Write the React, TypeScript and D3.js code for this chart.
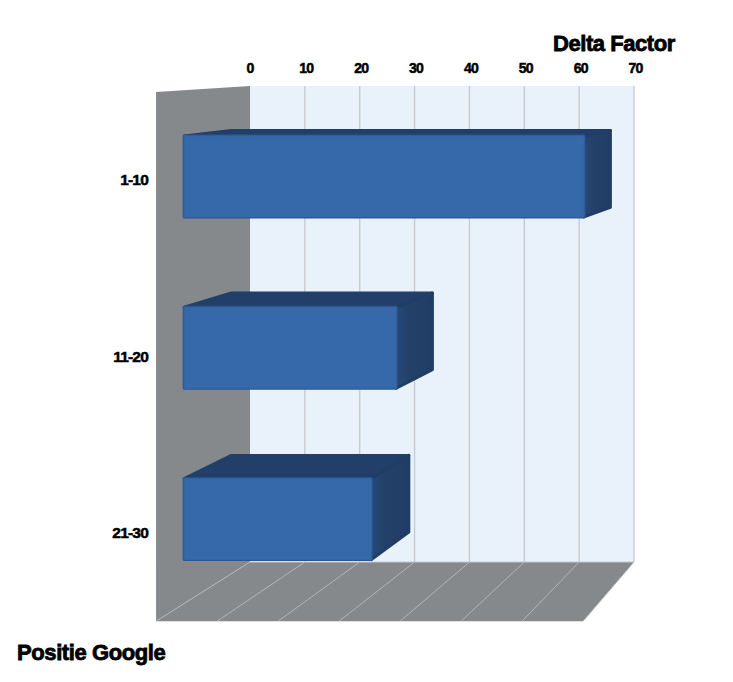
import React from "react";
import * as d3 from "d3";

const categories = ["1-10", "11-20", "21-30"];
const deltaFactor = [67.7, 36.0, 31.8];
const xTicks = [0, 10, 20, 30, 40, 50, 60, 70];

const xBack = d3.scaleLinear().domain([0, 70]).range([250, 634]);
const yBack = d3
  .scaleBand<string>()
  .domain(categories)
  .range([86, 562])
  .paddingInner(0.515)
  .paddingOuter(0.2575);
const depthScale = d3.scaleLinear().domain([0, 1]).range([1, 1.112]);
const VP = [1089, 33];
const BAR_BACK = 0.21;
const BAR_FRONT = 0.713;

function project(v: number, y: number, d: number): [number, number] {
  const s = depthScale(d);
  return [VP[0] + (xBack(v) - VP[0]) * s, VP[1] + (y - VP[1]) * s];
}
const poly = (pts: [number, number][]) => d3.line()(pts)! + "Z";

const labelFont = "'Liberation Sans', Arial, sans-serif";
const heavy = { fontFamily: labelFont, fontWeight: 700, fill: "#000", stroke: "#000" };

export default function App() {
  const [top, bottom] = yBack.range();
  return (
    <svg
      width={733}
      height={682}
      style={{ position: "absolute", left: 0, top: 0, background: "#fff" }}
    >
      <defs>
        <linearGradient id="side" x1="0" x2="1" y1="0" y2="0">
          <stop offset="0" stopColor="#27497a" />
          <stop offset="0.35" stopColor="#234168" />
          <stop offset="1" stopColor="#203d66" />
        </linearGradient>
      </defs>

      {/* back wall */}
      <path
        d={poly([
          [xBack(0), top],
          [xBack(70), top],
          [xBack(70), bottom],
          [xBack(0), bottom],
        ])}
        fill="#e9f1fb"
      />
      {xTicks.slice(1).map((t) => (
        <line
          key={t}
          x1={xBack(t)}
          x2={xBack(t)}
          y1={top}
          y2={bottom}
          stroke="#c5c9cd"
          strokeWidth={1.3}
        />
      ))}

      {/* left wall */}
      <path
        d={poly([project(0, top, 1), project(0, top, 0), project(0, bottom, 0), project(0, bottom, 1)])}
        fill="#86898b"
      />
      {/* floor */}
      <path
        d={poly([project(0, bottom, 0), project(70, bottom, 0), project(70, bottom, 1), project(0, bottom, 1)])}
        fill="#86898b"
      />
      <line x1={xBack(0)} x2={xBack(70)} y1={bottom} y2={bottom} stroke="#c5c9cd" strokeWidth={1} />
      {xTicks.map((t) => {
        const a = project(t, bottom, 0);
        const b = project(t, bottom, 1);
        return <line key={t} x1={a[0]} y1={a[1]} x2={b[0]} y2={b[1]} stroke="#b4b7b9" strokeWidth={1} />;
      })}

      {/* bars */}
      {categories.map((c, i) => {
        const v = deltaFactor[i];
        const y0 = yBack(c)! + 1.5;
        const y1 = y0 + yBack.bandwidth() - 2;
        const fTL = project(0.2, y0, BAR_FRONT);
        const fTR = project(v, y0, BAR_FRONT);
        const fBR = project(v, y1, BAR_FRONT);
        const fBL = project(0.2, y1, BAR_FRONT);
        const bTL = project(0.2, y0, BAR_BACK);
        const bTR = project(v, y0, BAR_BACK);
        const bBR = project(v, y1, BAR_BACK);
        return (
          <g key={c} strokeLinejoin="round">
            <path
              d={poly([fTL, bTL, bTR, fTR])}
              fill="#213f68"
              stroke="#213f68"
              strokeWidth={3}
            />
            <path
              d={poly([fTR, bTR, bBR, fBR])}
              fill="url(#side)"
              stroke="#203d66"
              strokeWidth={3}
            />
            <path
              d={poly([fTL, fTR, fBR, fBL])}
              fill="#3669a9"
              stroke="#2c568e"
              strokeWidth={3}
            />
            <path
              d={poly([fTL, fTR, fBR, fBL])}
              fill="#3669a9"
              stroke="#3366a5"
              strokeWidth={1}
            />
          </g>
        );
      })}

      {/* x tick labels */}
      {xTicks.map((t) => (
        <text
          key={t}
          x={xBack(t) + (t === 0 ? 0 : 1.5)}
          y={73}
          textAnchor="middle"
          fontSize={14}
          letterSpacing={-0.8}
          strokeWidth={0.5}
          {...heavy}
        >
          {t}
        </text>
      ))}

      {/* category labels */}
      {categories.map((c) => (
        <text
          key={c}
          x={148}
          y={project(0, yBack(c)! + yBack.bandwidth() / 2, 1)[1] + 5}
          textAnchor="end"
          fontSize={15.5}
          letterSpacing={-0.8}
          strokeWidth={0.5}
          {...heavy}
        >
          {c}
        </text>
      ))}

      <text x={553} y={51} fontSize={22} letterSpacing={-0.45} strokeWidth={0.8} {...heavy}>
        Delta Factor
      </text>
      <text x={17} y={660} fontSize={22} letterSpacing={-0.4} strokeWidth={0.8} {...heavy}>
        Positie Google
      </text>
    </svg>
  );
}
